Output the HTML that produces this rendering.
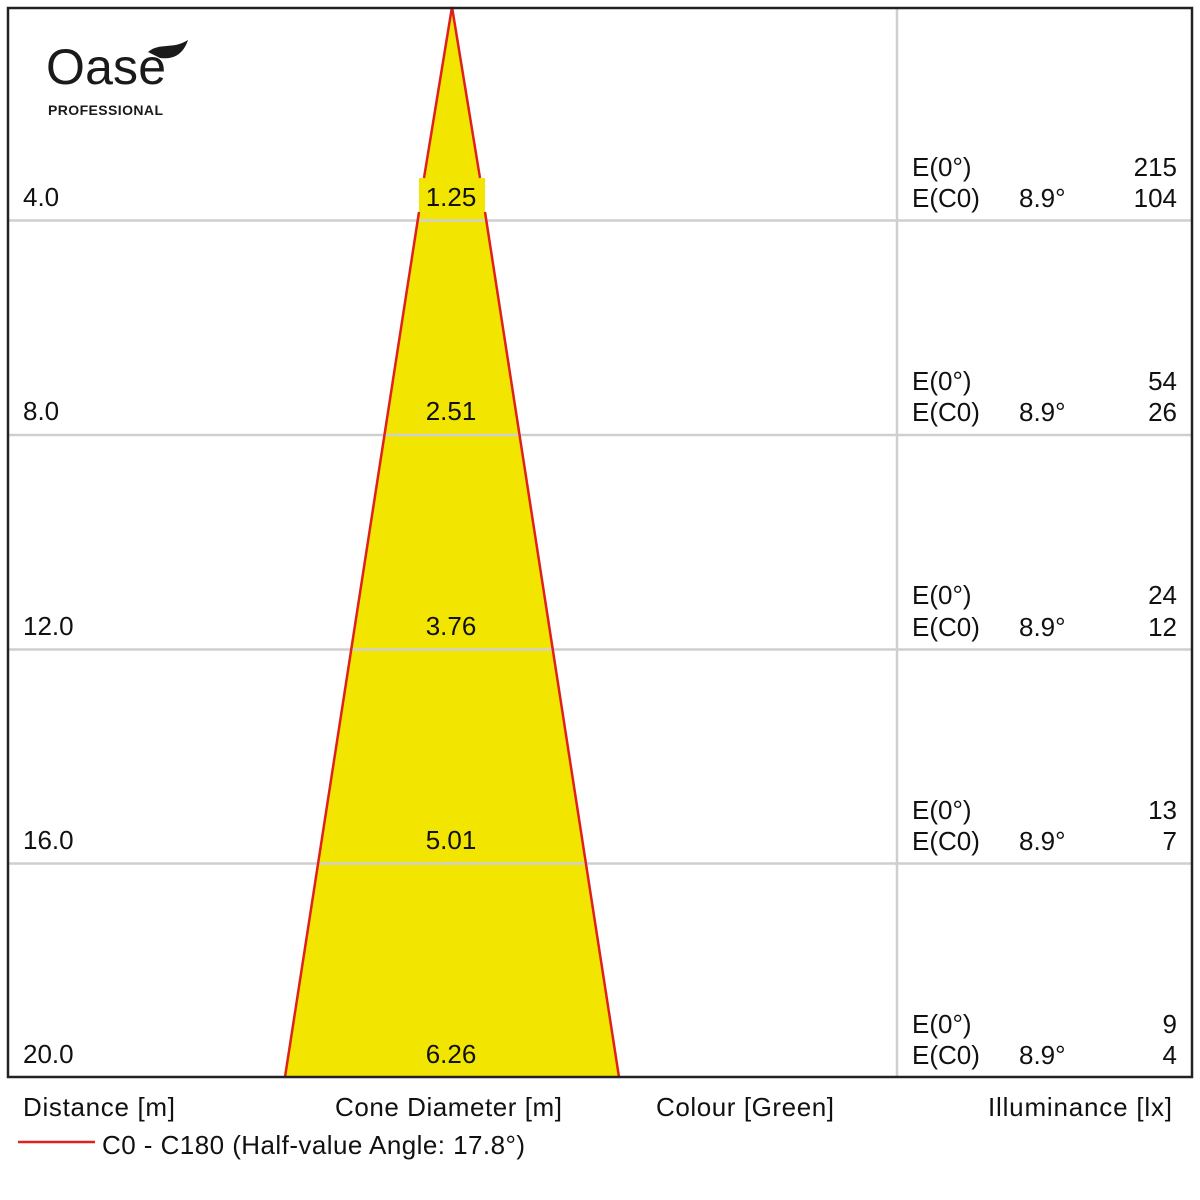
<!DOCTYPE html>
<html><head><meta charset="utf-8"><style>
html,body{margin:0;padding:0;background:#fff;}
svg{display:block;}
text{font-family:"Liberation Sans","DejaVu Sans",sans-serif;font-size:26px;fill:#111;}
</style></head><body>
<svg width="1200" height="1200" viewBox="0 0 1200 1200" xmlns="http://www.w3.org/2000/svg">
<rect width="1200" height="1200" fill="#fff"/>
<polygon points="452,7 285,1077 619,1077" fill="#f2e600"/>
<rect x="419" y="178" width="66" height="42" fill="#f2e600"/>
<g stroke="#cfcfcf" stroke-width="2.5">
<line x1="7" y1="220.5" x2="1193" y2="220.5"/>
<line x1="7" y1="435" x2="1193" y2="435"/>
<line x1="7" y1="649.5" x2="1193" y2="649.5"/>
<line x1="7" y1="863.5" x2="1193" y2="863.5"/>
<line x1="897" y1="7" x2="897" y2="1077"/>
</g>
<g stroke="#e0201c" stroke-width="2.5">
<line x1="452" y1="7" x2="424" y2="178"/>
<line x1="452" y1="7" x2="480" y2="178"/>
<line x1="419" y1="212" x2="285" y2="1077"/>
<line x1="485" y1="212" x2="619" y2="1077"/>
<line x1="18" y1="1142" x2="95" y2="1142"/>
</g>
<rect x="8" y="8" width="1184" height="1069" fill="none" stroke="#222" stroke-width="2.5"/>
<text x="46" y="84" textLength="120" style="font-size:50px;font-weight:500;fill:#1a1a1a">Oase</text>
<path d="M148,52 C160,42 172,50 188,40 C184,52 176,60 160,58 C156,56 152,54 148,52Z" fill="#1a1a1a"/>
<text x="48" y="115" textLength="115" style="font-size:14px;font-weight:bold;fill:#1a1a1a">PROFESSIONAL</text>
<g>
<text x="23" y="206">4.0</text><text x="451" y="206" text-anchor="middle">1.25</text>
<text x="23" y="420">8.0</text><text x="451" y="420" text-anchor="middle">2.51</text>
<text x="23" y="635">12.0</text><text x="451" y="635" text-anchor="middle">3.76</text>
<text x="23" y="849">16.0</text><text x="451" y="849" text-anchor="middle">5.01</text>
<text x="23" y="1063">20.0</text><text x="451" y="1063" text-anchor="middle">6.26</text>
</g>
<g>
<text x="912" y="176">E(0°)</text><text x="1177" y="176" text-anchor="end">215</text>
<text x="912" y="207">E(C0)</text><text x="1019" y="207">8.9°</text><text x="1177" y="207" text-anchor="end">104</text>
<text x="912" y="390">E(0°)</text><text x="1177" y="390" text-anchor="end">54</text>
<text x="912" y="421">E(C0)</text><text x="1019" y="421">8.9°</text><text x="1177" y="421" text-anchor="end">26</text>
<text x="912" y="604">E(0°)</text><text x="1177" y="604" text-anchor="end">24</text>
<text x="912" y="636">E(C0)</text><text x="1019" y="636">8.9°</text><text x="1177" y="636" text-anchor="end">12</text>
<text x="912" y="819">E(0°)</text><text x="1177" y="819" text-anchor="end">13</text>
<text x="912" y="850">E(C0)</text><text x="1019" y="850">8.9°</text><text x="1177" y="850" text-anchor="end">7</text>
<text x="912" y="1033">E(0°)</text><text x="1177" y="1033" text-anchor="end">9</text>
<text x="912" y="1064">E(C0)</text><text x="1019" y="1064">8.9°</text><text x="1177" y="1064" text-anchor="end">4</text>
</g>
<text x="23" y="1116" textLength="152">Distance [m]</text>
<text x="335" y="1116" textLength="227">Cone Diameter [m]</text>
<text x="656" y="1116" textLength="178">Colour [Green]</text>
<text x="988" y="1116" textLength="184">Illuminance [lx]</text>
<text x="102" y="1154" textLength="423">C0 - C180 (Half-value Angle: 17.8°)</text>
</svg>
</body></html>
